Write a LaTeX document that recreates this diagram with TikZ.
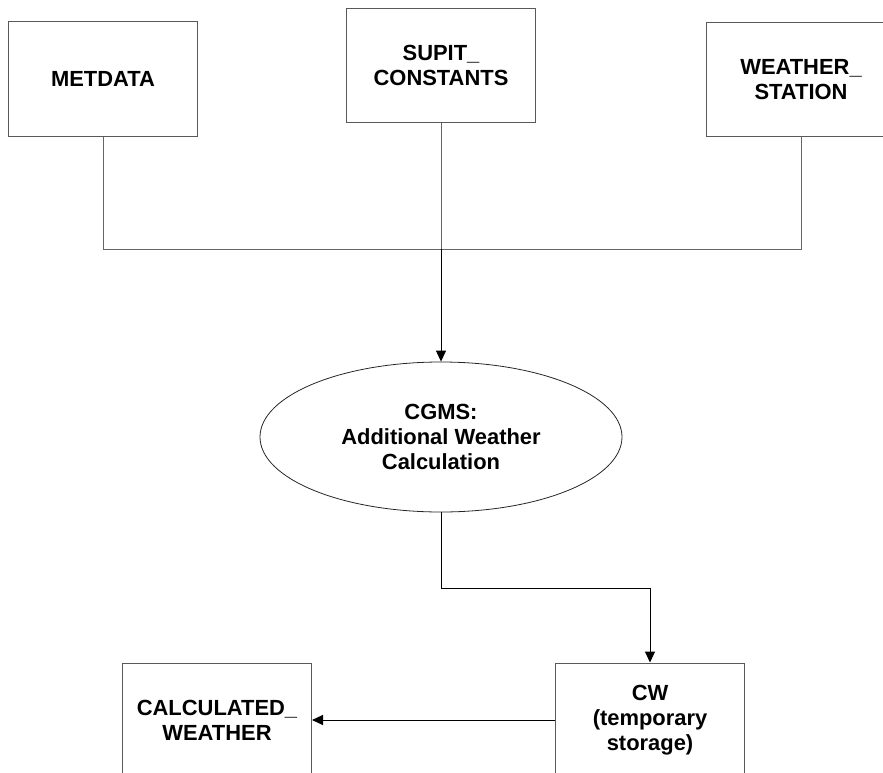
\documentclass[tikz,border=0pt]{standalone}
\usepackage{fontspec}
\setmainfont{Liberation Sans}
\usetikzlibrary{arrows.meta,shapes.geometric}
\begin{document}
\begin{tikzpicture}[x=1bp,y=-1bp,
  every node/.style={font=\fontsize{22}{25}\selectfont\bfseries, align=center, inner sep=0pt},
  databox/.style={draw=black!65, line width=1bp, minimum width=189bp, minimum height=114bp},
  procell/.style={draw=black!85, line width=0.8bp, ellipse, minimum width=362bp, minimum height=150bp},
  joinline/.style={draw=black!60, line width=1bp},
  flow/.style={draw=black, line width=1bp, -{Triangle[length=11bp,width=10bp]}}]
\useasboundingbox (0,0) rectangle (883,773);
\node[databox] (met) at (103,79) {METDATA};
\node[databox] (sup) at (441,65.5) {SUPIT\_\\CONSTANTS};
\node[databox] (wst) at (801,79.5) {WEATHER\_\\STATION};
\node[procell] (cgms) at (441,437) {CGMS:\\Additional Weather\\Calculation};
\node[databox] (cw) at (650,720) {CW\\(temporary\\storage)};
\node[databox] (calc) at (217,720) {CALCULATED\_\\WEATHER};
\coordinate (j) at (441,249);
\draw[joinline] (met.south) |- (j);
\draw[joinline] (wst.south) |- (j);
\draw[joinline] (sup.south) -- (j);
\draw[flow] (j) -- (cgms.north);
\draw[flow] (cgms.south) -- ++(0,76) -| (cw.north);
\draw[flow] (cw.west) -- (calc.east);
\end{tikzpicture}
\end{document}
